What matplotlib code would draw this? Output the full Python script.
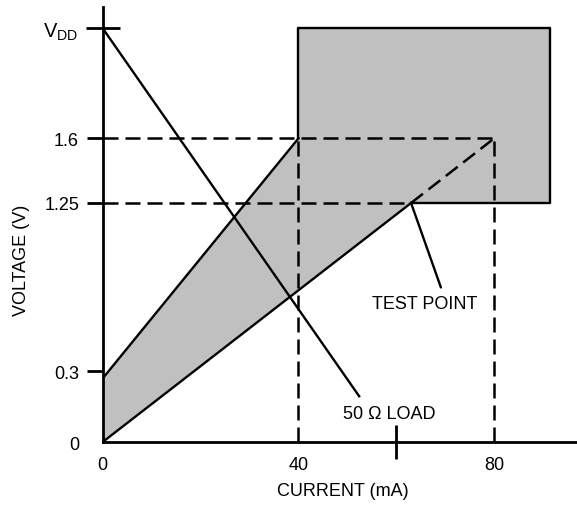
import numpy as np
import matplotlib
matplotlib.use("Agg")
import matplotlib.pyplot as plt

# ---- chart values ----
current_ticks = [0, 40, 80]              # mA
current_labels = ["0", "40", "80"]
voltage_ticks = [0, 0.3, 1.25, 1.6]      # V
voltage_labels = ["0", "0.3", "1.25", "1.6"]
vdd = 2.2
load_mark = 60                           # unlabelled tick on current axis

upper_i = [0, 40]
upper_v = [0.27, 1.6]
lower_i = [0, 63, 80]                    # solid up to the test point, dashed after
lower_v = [0, 1.25, 1.6]
box_i = [40, 91.4]
box_v = [1.25, vdd]
load_i = [0, 52.4]
load_v = [vdd, 0.194]
test_point = (63, 1.25)

# schematic (not to scale) voltage axis: value -> drawn height
knot_v = [-1, 0, 0.3, 1.25, 1.6, 2.2, 4.0]
knot_h = [-235.7, 0, 70.7, 239.0, 303.7, 413.7, 743.1]

def fwd(v):
    return np.interp(v, knot_v, knot_h)

def inv(h):
    return np.interp(h, knot_h, knot_v)

plt.rcParams['font.family'] = ['Liberation Sans', 'DejaVu Sans']
plt.rcParams['mathtext.default'] = 'regular'

fig = plt.figure(figsize=(5.77, 5.06), dpi=100)
ax = fig.add_axes([0.178, 0.1245, 0.822, 0.8597])
ax.set_yscale('function', functions=(fwd, inv))
ax.set_xlim(0, 96.9)
ax.set_ylim(0, float(inv(435)))

gray = '#c0c0c0'
lw = 1.7
dlw = 1.8
dash = (0, (6, 2.8))

# shaded area
ax.fill([upper_i[0], upper_i[0], upper_i[1], box_i[0], box_i[1], box_i[1], test_point[0]],
        [lower_v[0], upper_v[0], upper_v[1], box_v[1], box_v[1], box_v[0], test_point[1]],
        color=gray, lw=0, zorder=1)

# dashed guides
ax.plot([0, current_ticks[2]], [voltage_ticks[3]] * 2, 'k', lw=dlw, ls=dash)
ax.plot([0, test_point[0]], [voltage_ticks[2]] * 2, 'k', lw=dlw, ls=dash)
ax.plot([current_ticks[1]] * 2, [0, voltage_ticks[3]], 'k', lw=dlw, ls=dash)
ax.plot([current_ticks[2]] * 2, [0, voltage_ticks[3]], 'k', lw=dlw, ls=dash)
ax.plot(lower_i[1:], lower_v[1:], 'k', lw=dlw, ls=dash)

# solid lines
ax.plot(upper_i, upper_v, 'k', lw=lw)
ax.plot(lower_i[:2], lower_v[:2], 'k', lw=lw)
ax.plot([box_i[0], box_i[0], box_i[1], box_i[1], test_point[0]],
        [upper_v[1], box_v[1], box_v[1], box_v[0], box_v[0]], 'k', lw=lw)
ax.plot(load_i, load_v, 'k', lw=lw)

ax.annotate('TEST POINT', xy=test_point, xytext=(65.8, 0.68), ha='center', va='center',
            fontsize=13,
            arrowprops=dict(arrowstyle='-', lw=lw, relpos=(0.68, 1.0), shrinkA=4, shrinkB=0))
ax.text(58.5, 0.119, '50 \u03a9 LOAD', ha='center', va='center', fontsize=13)

# axes
for s in ['top', 'right']:
    ax.spines[s].set_visible(False)
for s in ['left', 'bottom']:
    ax.spines[s].set_linewidth(2.0)

ax.set_yticks(voltage_ticks)
ax.set_yticklabels(voltage_labels)
ax.set_yticks([vdd], minor=True)
ax.set_yticklabels([r'V$_{DD}$'], minor=True)
ax.set_xticks(current_ticks)
ax.set_xticklabels(current_labels)
ax.set_xticks([load_mark], minor=True)
ax.set_xticklabels([''], minor=True)

ax.tick_params(axis='y', which='major', direction='out', length=11.5, width=2.0, pad=5.5, labelsize=13)
ax.tick_params(axis='y', which='minor', direction='inout', length=23.8, width=2.0, pad=5.5, labelsize=14.5)
ax.tick_params(axis='x', which='major', length=0, pad=10, labelsize=13)
ax.tick_params(axis='x', which='minor', direction='inout', length=23.8, width=2.0)
ax.yaxis.get_major_ticks()[0].tick1line.set_visible(False)

ax.set_xlabel('CURRENT (mA)', fontsize=13)
ax.set_ylabel('VOLTAGE (V)', fontsize=13)
ax.xaxis.set_label_coords(0.507, -0.092)
ax.yaxis.set_label_coords(-0.153, 0.42)

fig.savefig('out.png', dpi=100)
